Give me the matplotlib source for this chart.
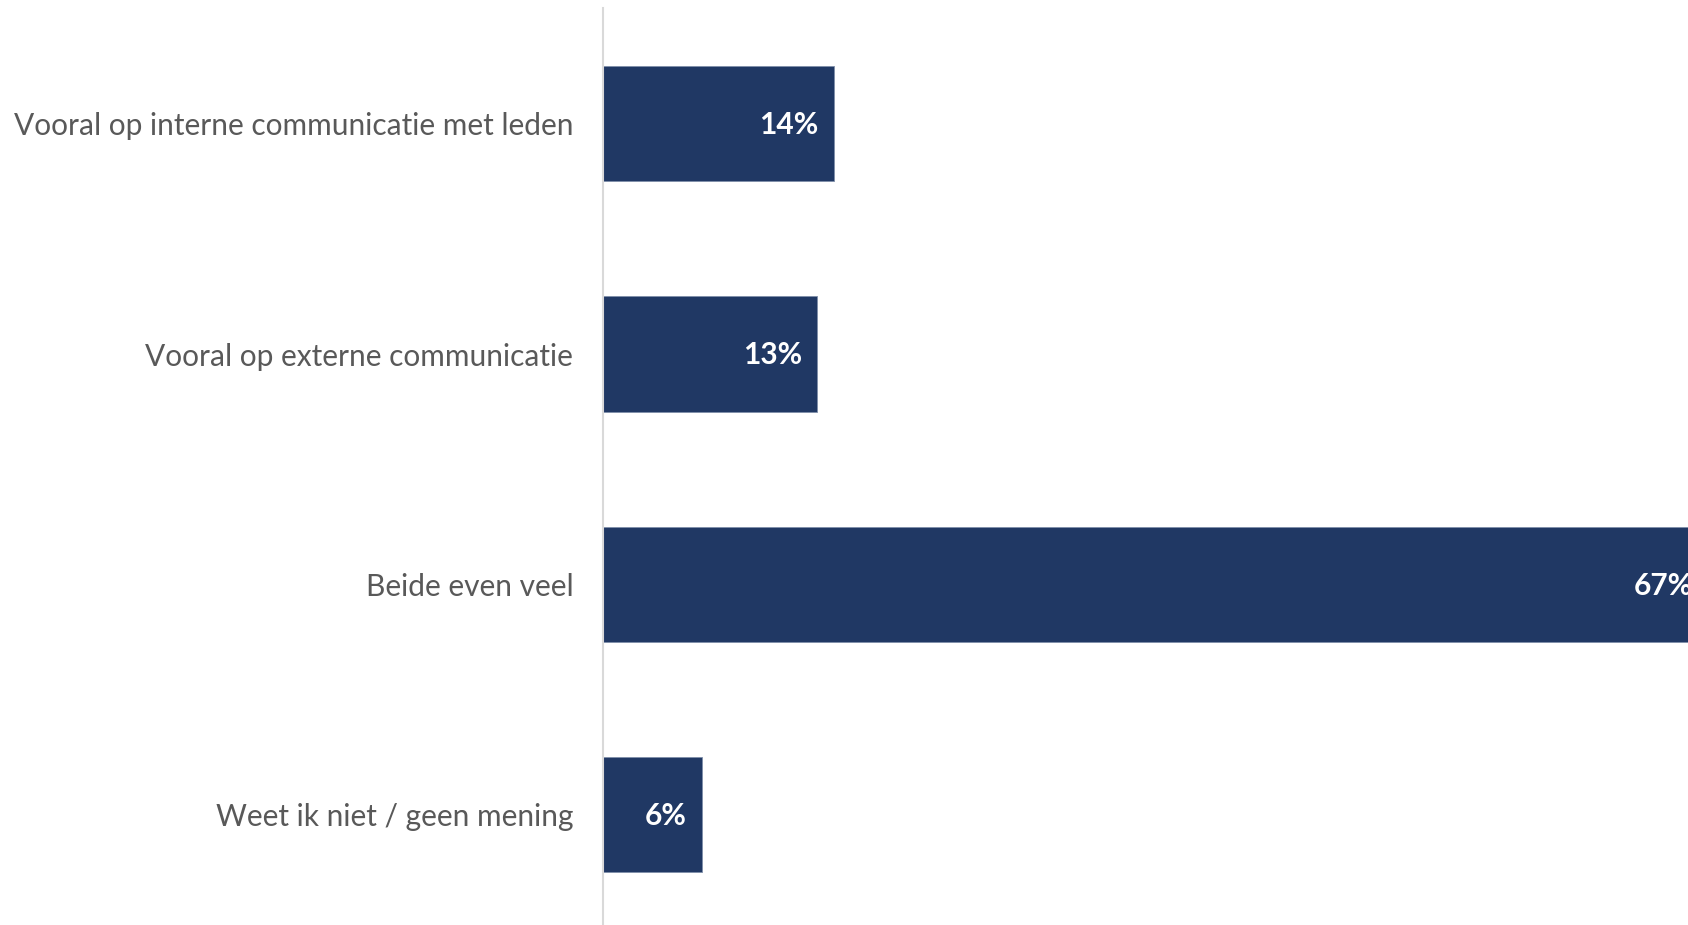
import matplotlib
matplotlib.use("Agg")
import matplotlib.pyplot as plt

categories = ["Vooral op interne communicatie met leden",
              "Vooral op externe communicatie",
              "Beide even veel",
              "Weet ik niet / geen mening"]
values = [14, 13, 67, 6]
value_labels = ["14%", "13%", "67%", "6%"]

W, H, DPI = 1688, 925, 100
fig = plt.figure(figsize=(W / DPI, H / DPI), dpi=DPI)
left = 603 / W
top = 8.5
bottom_px = 930
ax = fig.add_axes([left, (H - bottom_px) / H, 1 - left, (bottom_px - top) / H])

bar_color = "#203864"
y = list(range(len(categories)))
ax.barh(y, values, height=0.5, color=bar_color, edgecolor="#7f8fa9", linewidth=0.6)
ax.set_xlim(0, 65.8)
ax.set_ylim(3.5, -0.5)

for yi, v, lab in zip(y, values, value_labels):
    ax.annotate(lab, xy=(v, yi), xytext=(-11, -1), textcoords="offset points",
                ha="right", va="center", color="white", fontsize=21.5,
                fontweight="bold", family="Lato", annotation_clip=False)

ax.set_yticks(y)
ax.set_yticklabels(categories, fontsize=21.5, color="#595959", family="Lato")
ax.tick_params(axis="y", length=0, pad=21.5)
ax.set_xticks([])
for s in ["top", "right", "bottom"]:
    ax.spines[s].set_visible(False)
ax.spines["left"].set_color("#d9d9d9")
ax.spines["left"].set_linewidth(1.5)

fig.savefig("out.png", dpi=DPI)
